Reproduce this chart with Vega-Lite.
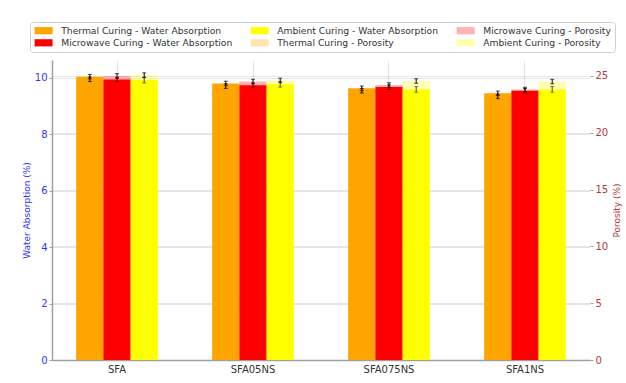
{
  "$schema": "https://vega.github.io/schema/vega-lite/v6.json",
  "width": 538,
  "height": 300,
  "autosize": {"type": "none"},
  "padding": {"left": 52, "top": 60, "right": 36, "bottom": 23},
  "background": "white",
  "config": {
    "font": "DejaVu Sans",
    "view": {"stroke": null},
    "axis": {
      "domainColor": "#a0a0a0",
      "domainWidth": 1.5,
      "tickColor": "#a0a0a0",
      "gridColor": "#000000",
      "gridOpacity": 0.1,
      "titleFontWeight": "normal",
      "zindex": 1
    },
    "legend": {
      "orient": "none",
      "legendX": -22,
      "legendY": -38,
      "columns": 3,
      "symbolType": "M-2.25,-0.9H2.25V0.9H-2.25Z",
      "symbolSize": 64,
      "symbolStrokeWidth": 0,
      "symbolOffset": 5,
      "labelOffset": 13,
      "labelFontSize": 9.2,
      "labelColor": "#333333",
      "columnPadding": 17,
      "rowPadding": 2.2,
      "padding": 4,
      "strokeColor": "#d0d0d0",
      "fillColor": "white",
      "cornerRadius": 3,
      "labelLimit": 300
    }
  },
  "data": {
    "values": [
      {"sample": "SFA", "curing": "Thermal", "measure": "Water Absorption", "series": "Thermal Curing - Water Absorption", "value": 10.03, "err": 0.08},
      {"sample": "SFA", "curing": "Microwave", "measure": "Water Absorption", "series": "Microwave Curing - Water Absorption", "value": 9.93, "err": 0.08},
      {"sample": "SFA", "curing": "Ambient", "measure": "Water Absorption", "series": "Ambient Curing - Water Absorption", "value": 9.91, "err": 0.1},
      {"sample": "SFA05NS", "curing": "Thermal", "measure": "Water Absorption", "series": "Thermal Curing - Water Absorption", "value": 9.79, "err": 0.08},
      {"sample": "SFA05NS", "curing": "Microwave", "measure": "Water Absorption", "series": "Microwave Curing - Water Absorption", "value": 9.73, "err": 0.08},
      {"sample": "SFA05NS", "curing": "Ambient", "measure": "Water Absorption", "series": "Ambient Curing - Water Absorption", "value": 9.76, "err": 0.1},
      {"sample": "SFA075NS", "curing": "Thermal", "measure": "Water Absorption", "series": "Thermal Curing - Water Absorption", "value": 9.62, "err": 0.08},
      {"sample": "SFA075NS", "curing": "Microwave", "measure": "Water Absorption", "series": "Microwave Curing - Water Absorption", "value": 9.66, "err": 0.08},
      {"sample": "SFA075NS", "curing": "Ambient", "measure": "Water Absorption", "series": "Ambient Curing - Water Absorption", "value": 9.58, "err": 0.1},
      {"sample": "SFA1NS", "curing": "Thermal", "measure": "Water Absorption", "series": "Thermal Curing - Water Absorption", "value": 9.44, "err": 0.08},
      {"sample": "SFA1NS", "curing": "Microwave", "measure": "Water Absorption", "series": "Microwave Curing - Water Absorption", "value": 9.53, "err": 0.08},
      {"sample": "SFA1NS", "curing": "Ambient", "measure": "Water Absorption", "series": "Ambient Curing - Water Absorption", "value": 9.58, "err": 0.1},
      {"sample": "SFA", "curing": "Thermal", "measure": "Porosity", "series": "Thermal Curing - Porosity", "value": 24.7, "err": 0.2},
      {"sample": "SFA", "curing": "Microwave", "measure": "Porosity", "series": "Microwave Curing - Porosity", "value": 25.0, "err": 0.2},
      {"sample": "SFA", "curing": "Ambient", "measure": "Porosity", "series": "Ambient Curing - Porosity", "value": 25.07, "err": 0.2},
      {"sample": "SFA05NS", "curing": "Thermal", "measure": "Porosity", "series": "Thermal Curing - Porosity", "value": 24.1, "err": 0.2},
      {"sample": "SFA05NS", "curing": "Microwave", "measure": "Porosity", "series": "Microwave Curing - Porosity", "value": 24.5, "err": 0.2},
      {"sample": "SFA05NS", "curing": "Ambient", "measure": "Porosity", "series": "Ambient Curing - Porosity", "value": 24.6, "err": 0.2},
      {"sample": "SFA075NS", "curing": "Thermal", "measure": "Porosity", "series": "Thermal Curing - Porosity", "value": 23.7, "err": 0.2},
      {"sample": "SFA075NS", "curing": "Microwave", "measure": "Porosity", "series": "Microwave Curing - Porosity", "value": 24.2, "err": 0.2},
      {"sample": "SFA075NS", "curing": "Ambient", "measure": "Porosity", "series": "Ambient Curing - Porosity", "value": 24.55, "err": 0.2},
      {"sample": "SFA1NS", "curing": "Thermal", "measure": "Porosity", "series": "Thermal Curing - Porosity", "value": 23.2, "err": 0.2},
      {"sample": "SFA1NS", "curing": "Microwave", "measure": "Porosity", "series": "Microwave Curing - Porosity", "value": 23.8, "err": 0.2},
      {"sample": "SFA1NS", "curing": "Ambient", "measure": "Porosity", "series": "Ambient Curing - Porosity", "value": 24.5, "err": 0.2}
    ]
  },
  "encoding": {
    "x": {
      "field": "sample",
      "type": "nominal",
      "sort": ["SFA", "SFA05NS", "SFA075NS", "SFA1NS"],
      "scale": {"paddingInner": 0.4, "paddingOuter": 0.178},
      "axis": {
        "title": null,
        "labelAngle": 0,
        "labelFontSize": 10,
        "labelColor": "#333333",
        "ticks": false,
        "labelPadding": 4,
        "grid": true,
        "bandPosition": 0.5
      }
    },
    "xOffset": {
      "field": "curing",
      "type": "nominal",
      "sort": ["Thermal", "Microwave", "Ambient"],
      "scale": {"paddingInner": 0, "paddingOuter": 0}
    }
  },
  "layer": [
    {
      "transform": [{"filter": "datum.measure === 'Water Absorption'"}],
      "layer": [
        {
          "mark": {"type": "bar", "strokeWidth": 0},
          "encoding": {
            "y": {
              "field": "value",
              "type": "quantitative",
              "title": "Water Absorption (%)",
              "scale": {"domain": [0, 10.62], "nice": false},
              "axis": {
                "titleColor": "#3333ff",
                "titleFontSize": 9,
                "titlePadding": 3,
                "labelColor": "#3333ff",
                "labelFontSize": 10,
                "values": [0, 2, 4, 6, 8, 10],
                "format": "d",
                "tickSize": 3,
                "labelPadding": 2,
                "grid": true
              }
            },
            "color": {
              "field": "series",
              "type": "nominal",
              "scale": {
                "domain": [
                  "Thermal Curing - Water Absorption",
                  "Microwave Curing - Water Absorption",
                  "Ambient Curing - Water Absorption",
                  "Thermal Curing - Porosity",
                  "Microwave Curing - Porosity",
                  "Ambient Curing - Porosity"
                ],
                "range": [
                  "#ffa500",
                  "#ff0000",
                  "#ffff00",
                  "rgba(255,165,0,0.3)",
                  "rgba(255,0,0,0.3)",
                  "rgba(255,255,0,0.3)"
                ]
              },
              "legend": {"title": null}
            }
          }
        },
        {
          "mark": {"type": "errorbar", "ticks": {"size": 4, "color": "black"}, "rule": {"color": "black", "strokeWidth": 1}},
          "encoding": {
            "y": {"field": "value", "type": "quantitative", "title": "Water Absorption (%)"},
            "yError": {"field": "err"}
          }
        }
      ]
    },
    {
      "transform": [{"filter": "datum.measure === 'Porosity'"}],
      "layer": [
        {
          "mark": {"type": "bar", "strokeWidth": 0},
          "encoding": {
            "y": {
              "field": "value",
              "type": "quantitative",
              "title": "Porosity (%)",
              "scale": {"domain": [0, 26.4], "nice": false},
              "axis": {
                "orient": "right",
                "titleAngle": 270,
                "titleBaseline": "top",
                "titleColor": "#b03a3a",
                "titleFontSize": 9,
                "titlePadding": 5,
                "labelColor": "#b03a3a",
                "labelFontSize": 10,
                "values": [0, 5, 10, 15, 20, 25],
                "tickSize": 3,
                "labelPadding": 2,
                "domain": false,
                "grid": true
              }
            },
            "color": {"field": "series", "type": "nominal"}
          }
        },
        {
          "mark": {"type": "errorbar", "ticks": {"size": 4, "color": "black"}, "rule": {"color": "black", "strokeWidth": 1}},
          "encoding": {
            "y": {"field": "value", "type": "quantitative", "title": "Porosity (%)"},
            "yError": {"field": "err"}
          }
        }
      ]
    }
  ],
  "resolve": {"scale": {"y": "independent"}}
}
